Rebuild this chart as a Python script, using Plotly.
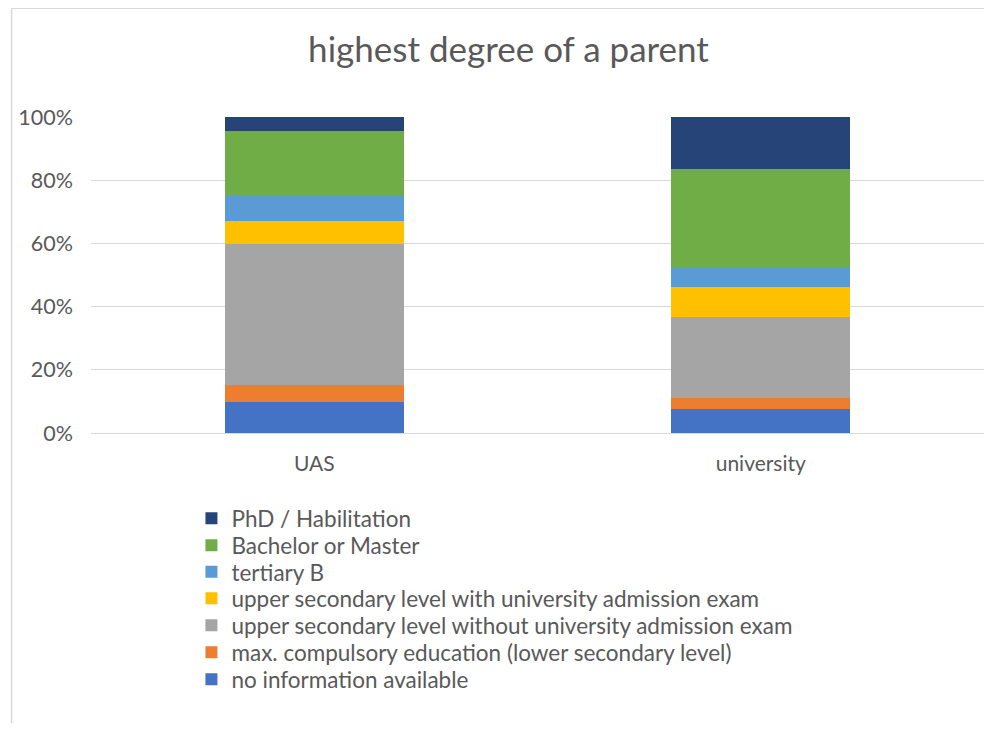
import plotly.graph_objects as go

# categories and stacked shares (fraction of 1)
categories = ["UAS", "university"]

series_names = [
    "no information available",
    "max. compulsory education (lower secondary level)",
    "upper secondary level without university admission exam",
    "upper secondary level with university admission exam",
    "tertiary B",
    "Bachelor or Master",
    "PhD / Habilitation",
]
no_info     = [0.098, 0.075]
compulsory  = [0.054, 0.036]
sec_no_exam = [0.447, 0.255]
sec_exam    = [0.072, 0.095]
tertiary_b  = [0.081, 0.064]
bachelor    = [0.204, 0.311]
phd         = [0.044, 0.164]

series_values = [no_info, compulsory, sec_no_exam, sec_exam, tertiary_b, bachelor, phd]
colors = ["#4472C4", "#ED7D31", "#A5A5A5", "#FFC000", "#5B9BD5", "#70AD47", "#264478"]

FONT = "Lato"
TXT = "#595959"

# page is offset by the 8px body margin; positions below are page pixels
OFF = 8
W, H = 976, 715
L, R, T, B = 82.5, 0, 109.3, 289.7
pw, ph = W - L - R, H - T - B


def px_x(x):
    return (x - OFF - L) / pw


def px_y(y):
    return (H - B - (y - OFF)) / ph


# legend rows (page y of row centres), top row = last series
legend_rows = [680, 653, 626, 599, 572.5, 546, 519]

fig = go.Figure()
layout_legends = {}
for i, (name, vals, col) in enumerate(zip(series_names, series_values, colors)):
    lg = "legend" if i == 0 else f"legend{i + 1}"
    fig.add_trace(go.Bar(
        x=categories, y=vals, name=name,
        marker=dict(color=col, line=dict(width=0)),
        width=0.4,
        legend=lg,
        showlegend=True,
    ))
    layout_legends[lg] = dict(
        x=px_x(191), xanchor="left",
        y=px_y(legend_rows[i]), yanchor="middle",
        font=dict(size=22.5, color=TXT, family=FONT),
        bgcolor="rgba(0,0,0,0)",
        itemclick=False, itemdoubleclick=False,
        visible=True,
    )

fig.update_layout(
    width=W, height=H,
    barmode="stack",
    showlegend=True,
    paper_bgcolor="white",
    plot_bgcolor="white",
    margin=dict(l=L, r=R, t=T, b=B, autoexpand=False),
    font=dict(family=FONT, color=TXT),
    title=dict(
        text="highest degree of a parent",
        x=(508.5 - OFF) / W, xref="container", xanchor="center",
        y=1 - (50 - OFF) / H, yref="container", yanchor="middle",
        font=dict(size=35, color=TXT, family=FONT),
    ),
    shapes=[
        dict(type="line", xref="paper", yref="paper",
             x0=px_x(11), x1=px_x(1000), y0=px_y(8.5), y1=px_y(8.5),
             line=dict(color="#D9D9D9", width=1.5)),
        dict(type="line", xref="paper", yref="paper",
             x0=px_x(11), x1=px_x(11), y0=px_y(8.5), y1=px_y(740),
             line=dict(color="#D9D9D9", width=1.5)),
    ],
    **layout_legends,
)

fig.update_yaxes(
    range=[0, 1],
    tickvals=[0, 0.2, 0.4, 0.6, 0.8, 1.0],
    tickformat=".0%",
    showgrid=True, gridcolor="#D9D9D9", gridwidth=1,
    zeroline=False, showline=False,
    tickfont=dict(size=21.5, color=TXT, family=FONT),
    ticks="", ticklabelstandoff=17,
)
fig.update_xaxes(
    showgrid=False,
    showline=True, linecolor="#D9D9D9", linewidth=1,
    tickfont=dict(size=21, color=TXT, family=FONT),
    ticks="", ticklabelstandoff=12,
)

fig.write_html("out.html")
